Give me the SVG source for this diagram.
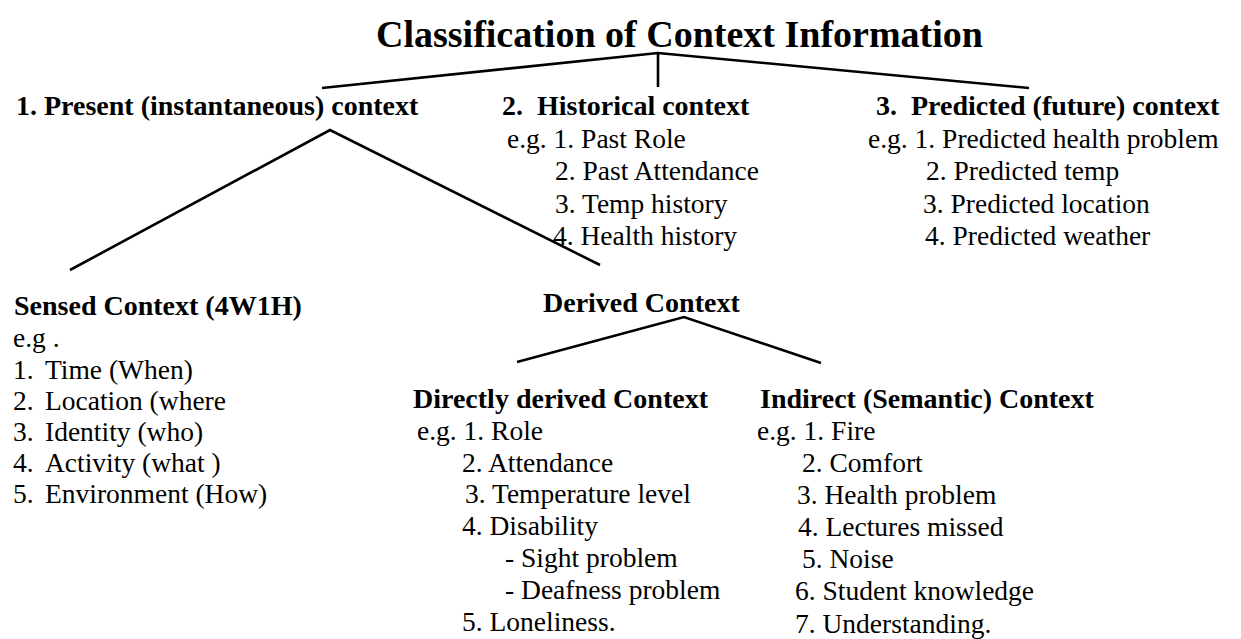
<svg xmlns="http://www.w3.org/2000/svg" width="1241" height="639" viewBox="0 0 1241 639">
  <style>
    text { font-family: "Liberation Serif", "Times New Roman", serif; fill: #000; }
    .title { font-size: 38px; font-weight: bold; }
    .head { font-size: 28px; font-weight: bold; }
    .item { font-size: 27.5px; }
    .edge { stroke: #000; stroke-width: 2.6; fill: none; stroke-linecap: butt; stroke-linejoin: miter; }
  </style>
  <rect width="1241" height="639" fill="#fff"/>

  <!-- connectors of the classification tree -->
  <g id="connectors">
    <polyline class="edge" points="322,88 658,53 1029,88"/>
    <line class="edge" x1="658" y1="53" x2="658" y2="87"/>
    <polyline class="edge" points="70,270 330,130 600,265"/>
    <polyline class="edge" points="517,362 684,317 821,363"/>
  </g>

  <g id="root">
    <text class="title" x="376" y="47">Classification of Context Information</text>
  </g>

  <g id="present">
    <text class="head" x="16" y="115">1. Present (instantaneous) context</text>
  </g>

  <g id="historical">
    <text class="head" x="502" y="115" xml:space="preserve">2.  Historical context</text>
    <text class="item" x="507" y="148">e.g. 1. Past Role</text>
    <text class="item" x="555" y="180">2. Past Attendance</text>
    <text class="item" x="555" y="213">3. Temp history</text>
    <text class="item" x="553" y="245">4. Health history</text>
  </g>

  <g id="predicted">
    <text class="head" x="876" y="115" xml:space="preserve">3.  Predicted (future) context</text>
    <text class="item" x="868" y="148">e.g. 1. Predicted health problem</text>
    <text class="item" x="926" y="180">2. Predicted temp</text>
    <text class="item" x="923" y="213">3. Predicted location</text>
    <text class="item" x="925" y="245">4. Predicted weather</text>
  </g>

  <g id="sensed">
    <text class="head" x="14" y="315">Sensed Context (4W1H)</text>
    <text class="item" x="13" y="347">e.g .</text>
    <text class="item" x="13" y="379">1.<tspan x="45">Time (When)</tspan></text>
    <text class="item" x="13" y="410">2.<tspan x="45">Location (where</tspan></text>
    <text class="item" x="13" y="441">3.<tspan x="45">Identity (who)</tspan></text>
    <text class="item" x="13" y="472">4.<tspan x="45">Activity (what )</tspan></text>
    <text class="item" x="13" y="503">5.<tspan x="45">Environment (How)</tspan></text>
  </g>

  <g id="derived">
    <text class="head" x="543" y="312">Derived Context</text>
  </g>

  <g id="directly-derived">
    <text class="head" x="413" y="408">Directly derived Context</text>
    <text class="item" x="417" y="440">e.g. 1. Role</text>
    <text class="item" x="462" y="472">2. Attendance</text>
    <text class="item" x="465" y="503">3. Temperature level</text>
    <text class="item" x="462" y="535">4. Disability</text>
    <text class="item" x="505" y="567">- Sight problem</text>
    <text class="item" x="505" y="599">- Deafness problem</text>
    <text class="item" x="462" y="631">5. Loneliness.</text>
  </g>

  <g id="indirect">
    <text class="head" x="760" y="408">Indirect (Semantic) Context</text>
    <text class="item" x="757" y="440">e.g. 1. Fire</text>
    <text class="item" x="802" y="472">2. Comfort</text>
    <text class="item" x="797" y="504">3. Health problem</text>
    <text class="item" x="798" y="536">4. Lectures missed</text>
    <text class="item" x="802" y="568">5. Noise</text>
    <text class="item" x="795" y="600">6. Student knowledge</text>
    <text class="item" x="795" y="633">7. Understanding.</text>
  </g>
</svg>
